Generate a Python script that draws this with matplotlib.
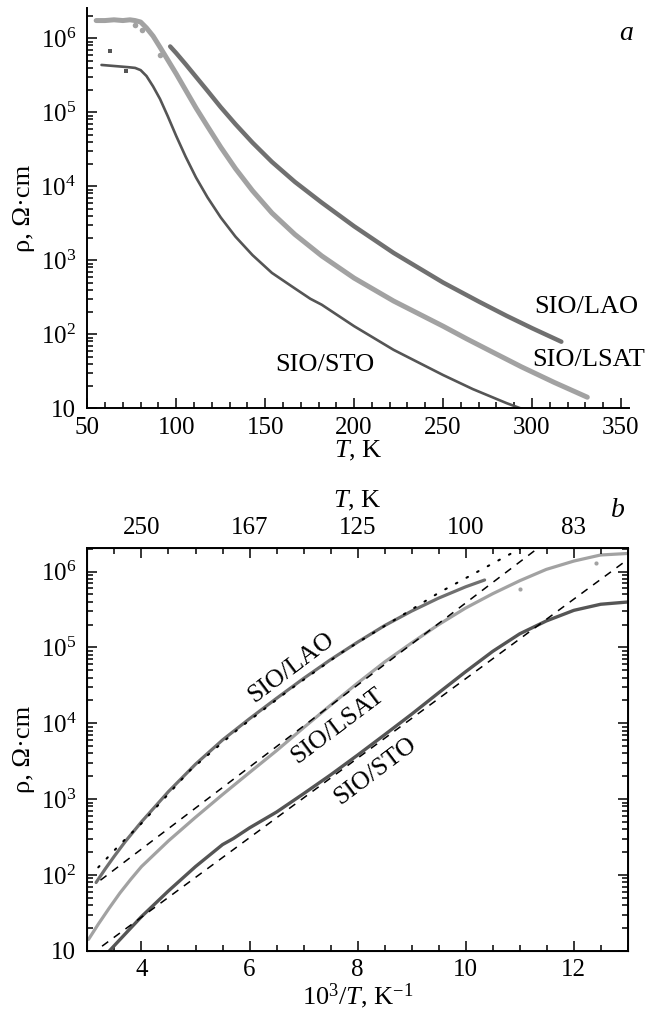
import numpy as np
import matplotlib.pyplot as plt
from matplotlib.ticker import MultipleLocator, LogLocator, FixedLocator, FuncFormatter, NullFormatter

plt.rcParams['font.family'] = ['Liberation Serif', 'DejaVu Serif']
plt.rcParams['mathtext.fontset'] = 'custom'
plt.rcParams['mathtext.rm'] = 'Liberation Serif'
plt.rcParams['mathtext.it'] = 'Liberation Serif:italic'

# resistivity curves: temperature (K) and lg(rho / Ohm*cm)
lao_T = [316.5, 300.3, 285.7, 270.3, 250, 222.2, 200, 181.8, 166.7, 153.8, 142.9,
         133.3, 125, 117.6, 111.1, 105.3, 100, 96.6]
lao_lg = [1.90, 2.08, 2.25, 2.44, 2.70, 3.10, 3.46, 3.78, 4.06, 4.33, 4.59,
          4.84, 5.07, 5.29, 5.48, 5.65, 5.80, 5.89]

lsat_T = [331.1, 312.5, 294.1, 277.8, 263.2, 250, 222.2, 200, 181.8, 166.7, 153.8,
          142.9, 133.3, 125, 117.6, 111.1, 105.3, 100, 95.2, 90.9, 87.0, 83.3, 80.0,
          76.9, 74, 70, 65, 60, 55]
lsat_lg = [1.15, 1.35, 1.56, 1.76, 1.94, 2.11, 2.45, 2.76, 3.06, 3.35, 3.64,
           3.94, 4.24, 4.53, 4.81, 5.06, 5.30, 5.52, 5.71, 5.88, 6.03, 6.14, 6.22,
           6.24, 6.25, 6.24, 6.25, 6.24, 6.24]

sto_T = [298, 285.7, 266.7, 250, 222.2, 200, 181.8, 175.4, 166.7, 153.8, 142.9,
         133.3, 125, 117.6, 111.1, 105.3, 100, 95.2, 90.9, 87.0, 83.3, 80.0, 76.9,
         73, 68, 63, 58]
sto_lg = [0.96, 1.07, 1.26, 1.45, 1.79, 2.11, 2.40, 2.48, 2.62, 2.83, 3.07,
          3.32, 3.58, 3.85, 4.12, 4.40, 4.68, 4.95, 5.18, 5.35, 5.49, 5.57, 5.60,
          5.61, 5.62, 5.63, 5.64]

# stray points near the low-temperature plateau
sto_out_T = [62.7, 71.6]
sto_out_lg = [5.83, 5.56]
lsat_out_T = [76.8, 80.6, 90.8]
lsat_out_lg = [6.18, 6.11, 5.77]

# fits in the Arrhenius plot: x = 10^3/T, lg(rho)
lao_fit_x = [3.2, 3.6, 4.0, 4.9, 5.8, 6.7, 7.7, 8.4, 9.0, 9.5, 10.3, 11.0]
lao_fit_lg = [2.10, 2.40, 2.68, 3.38, 3.93, 4.42, 4.93, 5.24, 5.50, 5.72, 6.03, 6.30]
lsat_fit_x = [3.24, 11.32]
lsat_fit_lg = [1.93, 6.30]
sto_fit_x = [3.27, 13.0]
sto_fit_lg = [1.06, 6.16]

top_T_ticks = [4, 6, 8, 10, 12]
top_T_labels = ['250', '167', '125', '100', '83']

c_lao, c_lsat, c_sto = '#707070', '#a2a2a2', '#555555'


def rho(lg):
    return 10 ** np.asarray(lg)


def inv(T):
    return 1000 / np.asarray(T)


def log_fmt(v, pos):
    n = int(round(np.log10(v)))
    return '10' if n == 1 else r'$10^{%d}$' % n


def style_log_y(ax):
    ax.set_yscale('log')
    ax.yaxis.set_major_locator(LogLocator(base=10))
    ax.yaxis.set_minor_locator(LogLocator(base=10, subs=np.arange(2, 10)))
    ax.yaxis.set_major_formatter(FuncFormatter(log_fmt))
    ax.yaxis.set_minor_formatter(NullFormatter())


fig = plt.figure(figsize=(6.46, 10.19), dpi=100)

# ---- (a) rho(T)
axa = fig.add_axes([0.1351, 0.5993, 0.8385, 0.3925])
axa.plot(lao_T, rho(lao_lg), color=c_lao, lw=3.2, solid_capstyle='round')
axa.plot(lsat_T, rho(lsat_lg), color=c_lsat, lw=3.6, solid_capstyle='round')
axa.plot(sto_T, rho(sto_lg), color=c_sto, lw=1.9, solid_capstyle='round')
axa.plot(sto_out_T, rho(sto_out_lg), 's', color=c_sto, ms=2.5, mew=0)
axa.plot(lsat_out_T, rho(lsat_out_lg), 'o', color=c_lsat, ms=4, mew=0)

style_log_y(axa)
axa.set_xlim(50, 354.5)
axa.set_ylim(10, 2.54e6)
axa.xaxis.set_major_locator(MultipleLocator(50))
axa.xaxis.set_minor_locator(MultipleLocator(10))
axa.spines['top'].set_visible(False)
axa.spines['right'].set_visible(False)
for s in ('left', 'bottom'):
    axa.spines[s].set_linewidth(1.4)
axa.tick_params(which='both', direction='in', top=False, right=False, width=1.1)
axa.tick_params(which='major', length=7, labelsize=18)
axa.tick_params(which='minor', length=4)
axa.tick_params(axis='x', pad=6)
axa.tick_params(axis='y', pad=8)
axa.set_xlabel('$T$, K', fontsize=19, labelpad=0)
axa.set_ylabel('ρ, Ω·cm', fontsize=19, labelpad=4)

axa.text(301, rho(2.37), 'SIO/LAO', fontsize=19, ha='left', va='center')
axa.text(300.4, rho(1.65), 'SIO/LSAT', fontsize=19, ha='left', va='center')
axa.text(155.4, rho(1.585), 'SIO/STO', fontsize=19, ha='left', va='center')

# ---- (b) rho vs 10^3/T
axb = fig.add_axes([0.1354, 0.0670, 0.8362, 0.3955])
axb.plot(inv(lao_T), rho(lao_lg), color=c_lao, lw=2.3, solid_capstyle='round')
axb.plot(inv(lsat_T), rho(lsat_lg), color=c_lsat, lw=2.3, solid_capstyle='round')
axb.plot(inv(sto_T), rho(sto_lg), color=c_sto, lw=2.4, solid_capstyle='round')
axb.plot(inv(lsat_out_T), rho(lsat_out_lg), 'o', color=c_lsat, ms=3, mew=0)
axb.plot(lao_fit_x, rho(lao_fit_lg), color='black', lw=1.5,
         linestyle=(0, (0.8, 5)), dash_capstyle='round')
axb.plot(lsat_fit_x, rho(lsat_fit_lg), color='black', lw=1.1, linestyle=(0, (5, 4.5)))
axb.plot(sto_fit_x, rho(sto_fit_lg), color='black', lw=1.1, linestyle=(0, (5, 4.5)))

style_log_y(axb)
axb.set_xlim(3, 13)
axb.set_ylim(10, 2.07e6)
axb.xaxis.set_major_locator(MultipleLocator(2))
axb.xaxis.set_minor_locator(MultipleLocator(0.5))
for s in axb.spines.values():
    s.set_linewidth(1.4)
axb.tick_params(which='both', direction='in', top=True, right=True, width=1.1)
axb.tick_params(which='major', length=7, labelsize=18)
axb.tick_params(which='minor', length=4)
axb.tick_params(axis='x', pad=6)
axb.tick_params(axis='y', pad=8)
axb.set_xlabel('10$^3$/$T$, K$^{-1}$', fontsize=19, labelpad=0)
axb.set_ylabel('ρ, Ω·cm', fontsize=19, labelpad=4)

axt = axb.twiny()
axt.set_xlim(axb.get_xlim())
axt.xaxis.set_major_locator(FixedLocator(top_T_ticks))
axt.xaxis.set_minor_locator(MultipleLocator(0.5))
axt.set_xticklabels(top_T_labels)
axt.tick_params(which='both', direction='in', width=1.1)
axt.tick_params(which='major', length=7, labelsize=18, pad=6)
axt.tick_params(which='minor', length=4)
axt.set_xlabel('$T$, K', fontsize=19, labelpad=7)

axb.text(6.77, rho(4.73), 'SIO/LAO', fontsize=18.5, rotation=37,
         ha='center', va='center', rotation_mode='anchor')
axb.text(7.64, rho(3.96), 'SIO/LSAT', fontsize=18.5, rotation=37,
         ha='center', va='center', rotation_mode='anchor')
axb.text(8.32, rho(3.37), 'SIO/STO', fontsize=18.5, rotation=37,
         ha='center', va='center', rotation_mode='anchor')

fig.text(626 / 646, 1 - 40 / 1019, 'a', fontsize=20, style='italic', ha='center', va='baseline')
fig.text(618 / 646, 1 - 517 / 1019, 'b', fontsize=20, style='italic', ha='center', va='baseline')

fig.savefig('out.png', dpi=100)
